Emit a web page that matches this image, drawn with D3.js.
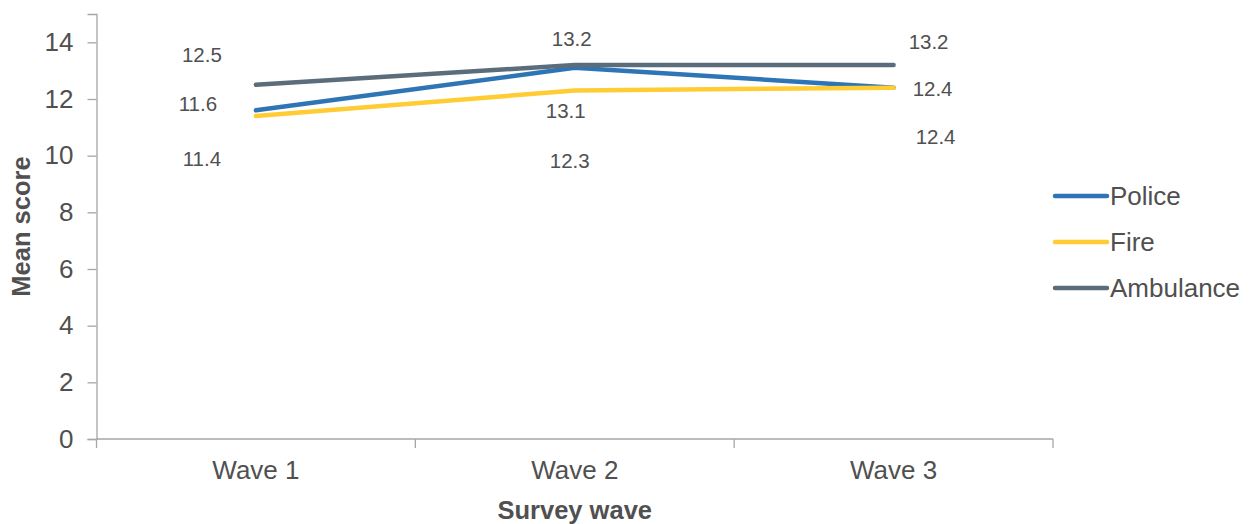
<!DOCTYPE html>
<html>
<head>
<meta charset="utf-8">
<script src="https://cdn.jsdelivr.net/npm/d3@7"></script>
<style>
  html, body { margin: 0; padding: 0; background: #fff; }
  svg { display: block; font-family: "Liberation Sans", Arial, sans-serif; }
</style>
</head>
<body>
<svg id="chart" width="1258" height="524"></svg>
<script>
// Mean scores by survey wave for each emergency service
const waves = ["Wave 1", "Wave 2", "Wave 3"];
const seriesNames = ["Police", "Fire", "Ambulance"];
const police = [11.6, 13.1, 12.4];
const fire = [11.4, 12.3, 12.4];
const ambulance = [12.5, 13.2, 13.2];
const yTicks = [0, 2, 4, 6, 8, 10, 12, 14];

const colors = { Police: "#2e75b6", Fire: "#ffcc33", Ambulance: "#5b6d7b" };

// Label nudges (px) from each point, per wave
const labelNudge = {
  Police:    [[-58, -7], [-9, 43], [39, 1]],
  Fire:      [[-54, 42], [-5, 70], [42, 49]],
  Ambulance: [[-54, -30], [-3, -27], [35, -24]]
};

const series = [
  { name: "Police", values: police },
  { name: "Fire", values: fire },
  { name: "Ambulance", values: ambulance }
];

const svg = d3.select("#chart");
const margin = { left: 96.5, right: 205, top: 14, bottom: 85 };
const W = 1258, H = 524;

const x = d3.scaleBand().domain(waves)
  .range([margin.left, W - margin.right]).paddingInner(0).paddingOuter(0);
const y = d3.scaleLinear().domain([0, 15]).range([H - margin.bottom, margin.top]);

const axisColor = "#a6a6a6";
const textColor = "#505050";

// Y axis
const yAxis = svg.append("g")
  .attr("transform", `translate(${margin.left},0)`)
  .call(d3.axisLeft(y).tickValues(yTicks).tickSize(9).tickPadding(14).tickFormat(d3.format("d")));
yAxis.select(".domain").attr("stroke", axisColor).attr("stroke-width", 1.3);
yAxis.selectAll(".tick line").attr("stroke", axisColor).attr("stroke-width", 1.3);
yAxis.selectAll(".tick text").attr("fill", textColor).style("font-size", "26px");

// X axis with ticks on band edges
const xAxisG = svg.append("g").attr("transform", `translate(0,${y(0)})`);
xAxisG.append("line")
  .attr("x1", margin.left).attr("x2", W - margin.right)
  .attr("stroke", axisColor).attr("stroke-width", 1.3);
const edges = waves.map(w => x(w)).concat([x(waves[waves.length - 1]) + x.bandwidth()]);
xAxisG.selectAll("line.edge").data(edges).enter().append("line")
  .attr("class", "edge")
  .attr("x1", d => d).attr("x2", d => d)
  .attr("y1", 0).attr("y2", 9)
  .attr("stroke", axisColor).attr("stroke-width", 1.3);
xAxisG.selectAll("text.cat").data(waves).enter().append("text")
  .attr("class", "cat")
  .attr("x", d => x(d) + x.bandwidth() / 2)
  .attr("y", 40)
  .attr("text-anchor", "middle")
  .attr("fill", textColor)
  .style("font-size", "26px")
  .text(d => d);

// Axis titles
svg.append("text")
  .attr("x", x(waves[1]) + x.bandwidth() / 2)
  .attr("y", 519)
  .attr("text-anchor", "middle")
  .attr("fill", textColor)
  .style("font-size", "25.5px").style("font-weight", "bold")
  .text("Survey wave");
svg.append("text")
  .attr("transform", `translate(30,${(y(0) + y(15)) / 2}) rotate(-90)`)
  .attr("text-anchor", "middle")
  .attr("fill", textColor)
  .style("font-size", "25.5px").style("font-weight", "bold")
  .text("Mean score");

// Lines
const cx = w => x(w) + x.bandwidth() / 2;
const line = d3.line().x((d, i) => cx(waves[i])).y(d => y(d));

svg.selectAll("path.series").data(series).enter().append("path")
  .attr("class", "series")
  .attr("d", d => line(d.values))
  .attr("fill", "none")
  .attr("stroke", d => colors[d.name])
  .attr("stroke-width", 4.5)
  .attr("stroke-linecap", "round")
  .attr("stroke-linejoin", "round");

// Value labels
series.forEach(s => {
  svg.selectAll(null).data(s.values).enter().append("text")
    .attr("x", (d, i) => cx(waves[i]) + labelNudge[s.name][i][0])
    .attr("y", (d, i) => y(d) + labelNudge[s.name][i][1])
    .attr("text-anchor", "middle")
    .attr("dominant-baseline", "central")
    .attr("fill", textColor)
    .style("font-size", "20.5px")
    .text(d => d3.format(".1f")(d));
});

// Legend
const legend = svg.append("g").attr("transform", "translate(1055,196)");
const li = legend.selectAll("g").data(seriesNames).enter().append("g")
  .attr("transform", (d, i) => `translate(0,${i * 46})`);
li.append("line")
  .attr("x1", 0).attr("x2", 52)
  .attr("stroke", d => colors[d]).attr("stroke-width", 4.5)
  .attr("stroke-linecap", "round");
li.append("text")
  .attr("x", 55).attr("y", 0)
  .attr("dominant-baseline", "central")
  .attr("fill", textColor)
  .style("font-size", "26px")
  .text(d => d);
</script>
</body>
</html>
